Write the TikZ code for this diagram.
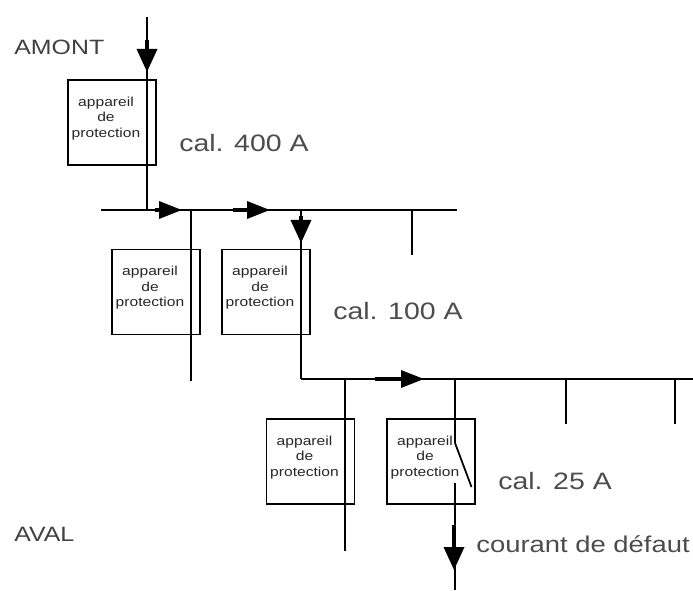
\documentclass[tikz,border=0pt]{standalone}
\usepackage{fontspec}
\usepackage{tikz}
\usetikzlibrary{arrows.meta, calc}
\newfontfamily\etire[FakeStretch=1.2]{Liberation Sans}

\begin{document}
\begin{tikzpicture}[
  boite/.style={
    draw=black,
    line width=0.9pt,
    minimum width=1.76cm,
    minimum height=1.70cm,
    inner sep=0pt
  },
  appareil/.style={
    font=\etire\fontsize{7.4}{8.8}\selectfont,
    text=black!85,
    align=center,
    inner sep=0pt
  },
  calibre/.style={
    font=\etire\fontsize{13.5}{16}\selectfont,
    text=black!70,
    anchor=west,
    inner sep=0pt
  },
  repere/.style={
    font=\etire\fontsize{11.8}{14}\selectfont,
    text=black!75,
    anchor=west,
    inner sep=0pt
  },
  trait/.style={
    draw=black,
    line width=1pt
  },
  courant/.style={
    -{Triangle[length=4.6mm, width=4.0mm, fill=black]},
    draw=black,
    line width=2pt
  },
  courant h/.style={
    -{Triangle[length=4.6mm, width=3.4mm, fill=black]},
    draw=black,
    line width=2pt
  }
]
\useasboundingbox (0,0) rectangle (13.86,11.80);

% Appareils de protection
\node[boite] (p1) at (2.24, 9.35) {};
\node[appareil] (t1) at ([shift={(-0.12,0.08)}] p1.center) {appareil\\de\\protection};
\node[boite] (p2) at (3.12, 5.96) {};
\node[appareil] (t2) at ([shift={(-0.12,0.08)}] p2.center) {appareil\\de\\protection};
\node[boite] (p3) at (5.32, 5.96) {};
\node[appareil] (t3) at ([shift={(-0.12,0.08)}] p3.center) {appareil\\de\\protection};
\node[boite] (p4) at (6.21, 2.57) {};
\node[appareil] (t4) at ([shift={(-0.12,0.08)}] p4.center) {appareil\\de\\protection};
\node[boite] (p5) at (8.62, 2.57) {};
\node[appareil] (t5) at ([shift={(-0.12,0.08)}] p5.center) {appareil\\de\\protection};

% Textes
\node[repere] (amont) at (0.28, 10.86) {AMONT};
\node[repere] (aval) at (0.28, 1.12) {AVAL};
\node[calibre] (c400) at (3.58, 8.94) {cal. 400 A};
\node[calibre] (c100) at (6.66, 5.58) {cal. 100 A};
\node[calibre] (c25) at (9.96, 2.18) {cal. 25 A};
\node[calibre, font=\etire\fontsize{13}{16}\selectfont] (defaut) at (9.52, 0.92) {courant de défaut};

% Jeu de barres haut
\coordinate (arrivee) at (2.94, 11.46);
\coordinate (n1) at (2.94, 7.60);
\coordinate (b1g) at (2.02, 7.60);
\coordinate (b1d) at (9.14, 7.60);
\coordinate (n2) at (3.82, 7.60);
\coordinate (n3) at (6.02, 7.60);
\coordinate (d2) at (3.82, 4.18);
\coordinate (n4) at (8.24, 7.60);
\coordinate (d4) at (8.24, 6.70);

% Jeu de barres bas
\coordinate (n5) at (6.02, 4.22);
\coordinate (b2d) at (13.86, 4.22);
\coordinate (n6) at (6.90, 4.22);
\coordinate (d6) at (6.90, 0.78);
\coordinate (n7) at (9.10, 4.22);
\coordinate (o7) at (9.10, 2.94);
\coordinate (s7) at (9.43, 2.06);
\coordinate (r7) at (9.10, 2.14);
\coordinate (d7) at (9.10, 0.00);
\coordinate (n8) at (11.32, 4.22);
\coordinate (d8) at (11.32, 3.32);
\coordinate (n9) at (13.50, 4.22);
\coordinate (d9) at (13.50, 3.32);

% Liaisons
\draw[trait] (arrivee) -- (n1);
\draw[trait] (b1g) -- (b1d);
\draw[trait] (n2) -- (d2);
\draw[trait] (n3) -- (n5);
\draw[trait] (n4) -- (d4);
\draw[trait] (n5) -- (b2d);
\draw[trait] (n6) -- (d6);
\draw[trait] (n7) -- (o7);
\draw[trait] (o7) -- (s7);
\draw[trait] (r7) -- (d7);
\draw[trait] (n8) -- (d8);
\draw[trait] (n9) -- (d9);

% Sens du courant
\coordinate (f1a) at (2.94, 11.00);
\coordinate (f1b) at (2.94, 10.36);
\coordinate (f2a) at (3.10, 7.60);
\coordinate (f2b) at (3.64, 7.60);
\coordinate (f3a) at (4.66, 7.60);
\coordinate (f3b) at (5.40, 7.60);
\coordinate (f4a) at (6.02, 7.48);
\coordinate (f4b) at (6.02, 6.94);
\coordinate (f5a) at (7.50, 4.22);
\coordinate (f5b) at (8.48, 4.22);
\coordinate (f6a) at (9.08, 1.30);
\coordinate (f6b) at (9.08, 0.40);
\draw[courant] (f1a) -- (f1b);
\draw[courant h] (f2a) -- (f2b);
\draw[courant h] (f3a) -- (f3b);
\draw[courant] (f4a) -- (f4b);
\draw[courant h] (f5a) -- (f5b);
\draw[courant] (f6a) -- (f6b);

\end{tikzpicture}
\end{document}
